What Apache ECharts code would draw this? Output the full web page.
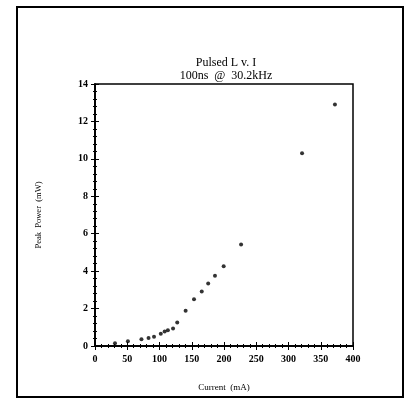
<!DOCTYPE html>
<html>
<head>
<meta charset="utf-8">
<script src="https://cdn.jsdelivr.net/npm/echarts@6/dist/echarts.min.js"></script>
<style>html,body{margin:0;padding:0;background:#fff}#c{width:405px;height:399px}</style>
</head>
<body>
<div id="c"></div>
<script>
var currentMA = [31, 51, 72, 83, 91.5, 102, 108, 113, 121, 127.5, 140.5, 153.5, 165.5, 175.5, 186, 199.5, 226.5, 321, 372];
var peakPowerMW = [0.15, 0.26, 0.36, 0.43, 0.5, 0.66, 0.77, 0.84, 0.94, 1.25, 1.88, 2.5, 2.91, 3.34, 3.76, 4.26, 5.43, 10.3, 12.9];
var titleLines = ['Pulsed L v. I', '100ns  @  30.2kHz'];
var xName = 'Current  (mA)';
var yName = 'Peak  Power  (mW)';

var serif = '"Liberation Serif", "DejaVu Serif", serif';
var chart = echarts.init(document.getElementById('c'), null, {renderer: 'canvas'});
var data = currentMA.map(function (x, i) { return [x, peakPowerMW[i]]; });
var tickCommon = {show: true, inside: true, length: 4, lineStyle: {color: '#000', width: 1}};
var minorCommon = {show: true, length: 2, lineStyle: {color: '#000', width: 1}, splitNumber: 5};
chart.setOption({
  backgroundColor: '#fff',
  animation: false,
  title: {
    text: titleLines[0] + '\n' + titleLines[1],
    left: 221, top: 51, textAlign: 'center',
    textStyle: {fontFamily: serif, fontSize: 12, fontWeight: 'normal', color: '#000', lineHeight: 13}
  },
  grid: {left: 95, right: 52, top: 84, bottom: 53, show: true, borderColor: '#000', borderWidth: 1.5, backgroundColor: 'transparent'},
  xAxis: [{
    type: 'value', min: 0, max: 400, interval: 50, position: 'bottom',
    name: xName, nameLocation: 'middle', nameGap: 37,
    nameTextStyle: {fontFamily: serif, fontSize: 9, color: '#000'},
    axisLine: {show: true, lineStyle: {color: '#000', width: 1.5}},
    axisTick: tickCommon, minorTick: minorCommon,
    axisLabel: {fontFamily: serif, fontSize: 10, fontWeight: 'bold', color: '#000', margin: 8},
    splitLine: {show: false}
  }, {
    type: 'value', min: 0, max: 400, interval: 50, position: 'top',
    axisLine: {show: true, lineStyle: {color: '#000', width: 1.5}},
    axisTick: tickCommon, minorTick: minorCommon,
    axisLabel: {show: false}, splitLine: {show: false}
  }],
  yAxis: [{
    type: 'value', min: 0, max: 14, interval: 2, position: 'left',
    name: yName, nameLocation: 'middle', nameGap: 52, nameRotate: 90,
    nameTextStyle: {fontFamily: serif, fontSize: 8.5, color: '#000'},
    axisLine: {show: true, lineStyle: {color: '#000', width: 1.5}},
    axisTick: tickCommon, minorTick: minorCommon,
    axisLabel: {fontFamily: serif, fontSize: 10, fontWeight: 'bold', color: '#000', margin: 7},
    splitLine: {show: false}
  }, {
    type: 'value', min: 0, max: 14, interval: 2, position: 'right',
    axisLine: {show: true, lineStyle: {color: '#000', width: 1.5}},
    axisTick: tickCommon, minorTick: minorCommon,
    axisLabel: {show: false}, splitLine: {show: false}
  }],
  series: [{
    type: 'scatter', xAxisIndex: 0, yAxisIndex: 0,
    data: data, symbol: 'circle', symbolSize: 4,
    itemStyle: {color: '#000'}
  }],
  graphic: [{
    type: 'rect', shape: {x: 17, y: 7, width: 386, height: 390},
    style: {fill: 'none', stroke: '#000', lineWidth: 2}, silent: true, z: -1
  }]
});
</script>
</body>
</html>
